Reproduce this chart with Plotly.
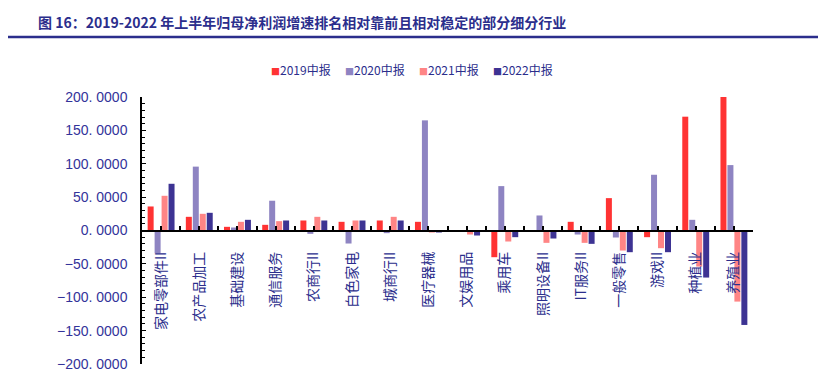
import plotly.graph_objects as go

categories = ["家电零部件II", "农产品加工", "基础建设", "通信服务", "农商行II", "白色家电",
              "城商行II", "医疗器械", "文娱用品", "乘用车", "照明设备II", "IT服务II",
              "一般零售", "游戏II", "种植业", "养殖业"]
s2019 = [36, 20.5, 5.5, 8.5, 15, 13, 15, 13, 0, -40, 0, 13, 48.5, -10, 170.5, 200]
s2020 = [-34, 95.7, 4.5, 44.6, -5, -19.5, -4, 165, 0, 66.5, 22.5, -6, -10.5, 83.5, 16, 98]
s2021 = [52, 25, 13, 14, 20.5, 15, 20.5, -3, -6, -16.5, -18.5, -18.5, -30, -26.5, -54, -106.5]
s2022 = [70, 26.5, 16, 15, 15, 15, 15, -3, -7.5, -10, -12, -20, -32.5, -32.5, -70.5, -141.5]
series_names = ["2019中报", "2020中报", "2021中报", "2022中报"]
colors = ["#FF3333", "#8E84C2", "#FF8585", "#3D3393"]
y_tickvals = [200, 150, 100, 50, 0, -50, -100, -150, -200]
y_ticktext = ["200. 0000", "150. 0000", "100. 0000", "50. 0000", "0. 0000",
              "−50. 0000", "−100. 0000", "−150. 0000", "−200. 0000"]

NAVY = "#2B2E8C"
OFF = 8  # page body margin
W, H = 826 - OFF, 385 - OFF
L, T = 142 - OFF, 97 - OFF
pw, ph = 611, 267
R, B = W - L - pw, H - T - ph

def px_x(x):
    return (x - OFF - L) / pw

def px_y(y):
    return (T + ph - (y - OFF)) / ph

xs = list(range(len(categories)))
fig = go.Figure()
for name, vals, c in zip(series_names, [s2019, s2020, s2021, s2022], colors):
    fig.add_trace(go.Bar(x=xs, y=vals, name=name, marker=dict(color=c, line=dict(width=0))))

fig.update_layout(
    width=W, height=H,
    margin=dict(l=L, r=R, t=T, b=B),
    paper_bgcolor="white", plot_bgcolor="white",
    barmode="group", bargap=0.27, bargroupgap=0.14,
    showlegend=False,
    font=dict(family="Noto Sans CJK SC", color=NAVY),
    title=dict(text="<b>图 16：2019-2022 年上半年归母净利润增速排名相对靠前且相对稳定的部分细分行业</b>",
               x=(38 - OFF) / W, xanchor="left", y=1 - (23 - OFF) / H, yanchor="middle",
               yref="container",
               font=dict(size=14, color=NAVY, family="Noto Sans CJK SC")),
)

fig.update_xaxes(
    range=[-0.5, len(categories) - 0.5],
    tickmode="array", tickvals=xs, ticktext=categories,
    tickangle=-90, ticks="inside", ticklen=4, tickcolor="black", tickwidth=1.5,
    minor=dict(tickmode="linear", tick0=0.5, dtick=1, ticks="inside", ticklen=4,
               tickcolor="black", tickwidth=1.5),
    showline=True, linecolor="black", linewidth=1.5,
    showgrid=False, zeroline=False,
    anchor="free", position=0.5,
    ticklabelstandoff=15,
    tickfont=dict(size=14, color=NAVY, family="Noto Sans CJK SC"),
)
fig.update_yaxes(
    range=[-200, 200],
    tickmode="array", tickvals=y_tickvals, ticktext=y_ticktext,
    ticks="inside", ticklen=4, tickcolor="black", tickwidth=1,
    minor=dict(tickmode="linear", tick0=0, dtick=10, ticks="inside", ticklen=3,
               tickcolor="black", tickwidth=1),
    showline=True, linecolor="black", linewidth=1.5,
    showgrid=False, zeroline=False,
    ticklabelstandoff=10,
    tickfont=dict(size=14, color="#33339A", family="Liberation Sans"),
)

# title rule
fig.add_shape(type="line", xref="paper", yref="paper",
              x0=px_x(0), x1=px_x(826), y0=px_y(37), y1=px_y(37),
              line=dict(color="#2B2E8C", width=2.5))

# source text (cut at top, as in the reference)
fig.add_annotation(text="资料来源：Wind，中国银河证券研究院", xref="paper", yref="paper",
                   x=px_x(45), y=px_y(6), xanchor="left", yanchor="bottom", showarrow=False,
                   font=dict(size=13, color="#999999", family="Noto Sans CJK SC"))

# legend
leg_x = [269, 343, 417, 491]
for name, c, lx in zip(series_names, colors, leg_x):
    fig.add_annotation(
        text=f"<span style='font-size:9px;color:{c}'>■</span>{name}",
        xref="paper", yref="paper", x=px_x(lx), y=px_y(70),
        xanchor="left", yanchor="middle", showarrow=False,
        font=dict(size=12, color=NAVY, family="Noto Sans CJK SC"))

fig.write_html("out.html")
